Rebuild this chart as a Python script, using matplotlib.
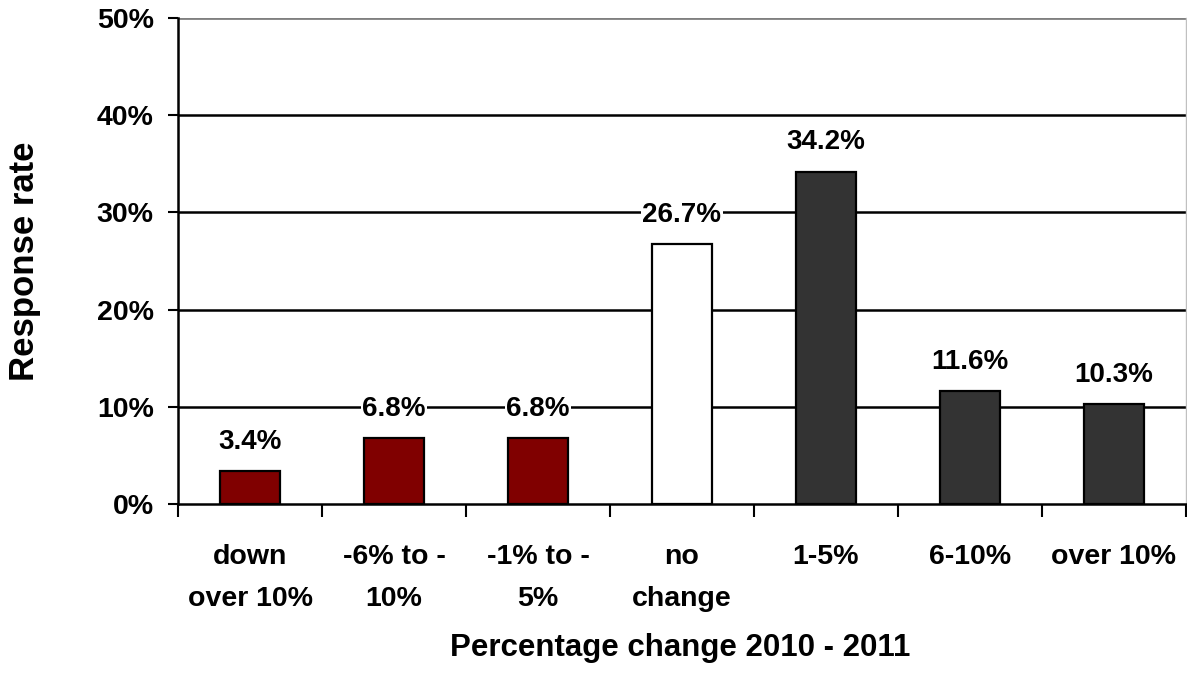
import matplotlib
matplotlib.use("Agg")
import matplotlib.pyplot as plt
from matplotlib.ticker import FuncFormatter

categories = ["down\nover 10%", "-6% to -\n10%", "-1% to -\n5%", "no\nchange",
              "1-5%", "6-10%", "over 10%"]
values = [3.4, 6.8, 6.8, 26.7, 34.2, 11.6, 10.3]
colors = ["#800000", "#800000", "#800000", "#ffffff", "#333333", "#333333", "#333333"]
yticks = [0, 10, 20, 30, 40, 50]

plt.rcParams['font.family'] = ['Liberation Sans', 'DejaVu Sans']
plt.rcParams['font.weight'] = 'bold'

fig = plt.figure(figsize=(11.87, 6.73), dpi=100)
ax = fig.add_axes([178 / 1187, 1 - 504 / 673, (1186 - 178) / 1187, (504 - 18) / 673])

x = list(range(len(values)))
ax.set_xlim(-0.5, len(values) - 0.5)
ax.set_ylim(0, 50)

for yv in yticks[1:-1]:
    ax.axhline(yv, color="black", lw=1.8, zorder=1)
ax.axhline(50, color="#808080", lw=2.0, zorder=1)

ax.bar(x, values, width=0.41, color=colors, edgecolor="black", linewidth=1.6, zorder=3)

for xi, v in zip(x, values):
    ax.annotate(f"{v}%", (xi, v), xytext=(0, 21), textcoords="offset points",
                ha="center", va="center", fontsize=20, fontweight="bold",
                bbox=dict(boxstyle="square,pad=0.05", fc="white", ec="none"), zorder=4)

ax.set_yticks(yticks)
ax.yaxis.set_major_formatter(FuncFormatter(lambda v, p: f"{int(v)}%"))
ax.set_xticks([i + 0.5 for i in range(-1, len(values))], minor=False)
ax.set_xticklabels([""] * (len(values) + 1))
ax.set_xticks(x, minor=True)
ax.set_xticklabels(categories, minor=True, fontsize=20.5, fontweight="bold", linespacing=1.8)
ax.tick_params(axis="x", which="minor", length=0, pad=29)
ax.tick_params(axis="x", which="major", length=9, width=1.5, direction="out")
ax.tick_params(axis="y", length=7.5, width=1.5, direction="out", labelsize=20.5, pad=10)
for lab in ax.get_yticklabels():
    lab.set_fontweight("bold")

ax.spines["top"].set_visible(False)
ax.spines["right"].set_color("#c0c0c0")
ax.spines["right"].set_linewidth(1.0)
ax.spines["left"].set_linewidth(1.8)
ax.spines["bottom"].set_linewidth(1.8)

ax.set_xlabel("Percentage change 2010 - 2011", fontsize=22.5, fontweight="bold")
ax.xaxis.set_label_coords(0.4985, (504 - 648) / 486)
ax.xaxis.label.set_va("center")
ax.set_ylabel("Response rate", fontsize=25, fontweight="bold")
ax.yaxis.set_label_coords((24 - 178) / 1008, 0.5)
ax.yaxis.label.set_va("center")

fig.savefig("out.png", dpi=100)
